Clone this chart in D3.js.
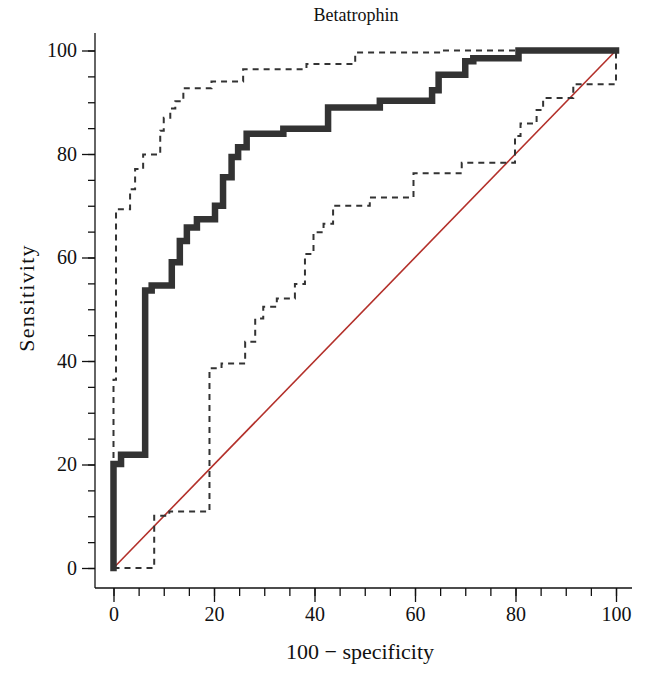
<!DOCTYPE html>
<html>
<head>
<meta charset="utf-8">
<script src="https://cdn.jsdelivr.net/npm/d3@7/dist/d3.min.js"></script>
<style>
  html, body { margin: 0; padding: 0; background: #fff; }
  svg { display: block; }
  text { font-family: "Liberation Serif", "Times New Roman", serif; fill: #111; }
</style>
</head>
<body>
<svg id="chart" width="646" height="679"></svg>
<script>
// ---- Data ----
const chartTitle = "Betatrophin";
const xLabel = "100 \u2212 specificity";
const yLabel = "Sensitivity";

const majorTicks = [0, 20, 40, 60, 80, 100];
const minorTicks = [0,5,10,15,20,25,30,35,40,45,50,55,60,65,70,75,80,85,90,95,100];

// ROC curve corners (100-specificity, sensitivity)
const rocX = [0, 0, 1.5, 1.5, 6.3, 6.3, 7.6, 7.6, 11.6, 11.6, 13.2, 13.2, 14.6, 14.6, 16.6, 16.6, 20.2, 20.2, 21.8, 21.8, 23.5, 23.5, 24.8, 24.8, 26.5, 26.5, 33.8, 33.8, 42.7, 42.7, 53.0, 53.0, 63.4, 63.4, 64.7, 64.7, 70.0, 70.0, 71.6, 71.6, 80.6, 80.6, 100];
const rocY = [0, 20.1, 20.1, 21.9, 21.9, 53.6, 53.6, 54.6, 54.6, 59.1, 59.1, 63.2, 63.2, 65.8, 65.8, 67.4, 67.4, 70.0, 70.0, 75.5, 75.5, 79.4, 79.4, 81.3, 81.3, 83.9, 83.9, 84.9, 84.9, 89.0, 89.0, 90.3, 90.3, 92.3, 92.3, 95.3, 95.3, 97.9, 97.9, 98.5, 98.5, 100, 100];

// Upper 95% confidence bound
const upperX = [0, 0, 0.5, 0.5, 3.3, 3.3, 4.3, 4.3, 5.9, 5.9, 9.3, 9.3, 10.0, 10.0, 11.3, 11.3, 12.3, 12.3, 13.9, 13.9, 19.5, 19.5, 25.8, 25.8, 38.4, 38.4, 48.1, 48.1, 65.0, 65.0, 100];
const upperY = [0, 36.4, 36.4, 69.3, 69.3, 73.2, 73.2, 77.1, 77.1, 79.9, 79.9, 84.5, 84.5, 87.0, 87.0, 88.8, 88.8, 90.2, 90.2, 92.7, 92.7, 94.0, 94.0, 96.4, 96.4, 97.4, 97.4, 99.6, 99.6, 100, 100];

// Lower 95% confidence bound
const lowerX = [0, 8.1, 8.1, 11.1, 11.1, 19.1, 19.1, 21.5, 21.5, 26.2, 26.2, 28.2, 28.2, 29.8, 29.8, 32.5, 32.5, 36.1, 36.1, 38.1, 38.1, 39.8, 39.8, 41.8, 41.8, 43.7, 43.7, 51.0, 51.0, 59.7, 59.7, 69.3, 69.3, 79.9, 79.9, 81.0, 81.0, 84.2, 84.2, 85.5, 85.5, 91.5, 91.5, 100, 100];
const lowerY = [0, 0, 10.1, 10.1, 10.9, 10.9, 38.6, 38.6, 39.5, 39.5, 43.7, 43.7, 48.2, 48.2, 50.5, 50.5, 52.1, 52.1, 54.9, 54.9, 60.7, 60.7, 64.9, 64.9, 66.5, 66.5, 70.0, 70.0, 71.6, 71.6, 76.3, 76.3, 78.3, 78.3, 83.5, 83.5, 85.9, 85.9, 88.5, 88.5, 90.8, 90.8, 93.5, 93.5, 100];

// Reference (chance) diagonal
const diagX = [0, 100];
const diagY = [0, 100];

// ---- Layout ----
const svg = d3.select("#chart");
const x = d3.scaleLinear().domain([0, 100]).range([113.5, 616]);
const y = d3.scaleLinear().domain([0, 100]).range([568, 50.5]);
const axisX0 = 95;   // y axis position
const axisY0 = 588;  // x axis position

// Axis frame lines
svg.append("line").attr("x1", axisX0).attr("x2", axisX0).attr("y1", 33).attr("y2", axisY0)
  .attr("stroke", "#111").attr("stroke-width", 1.3);
svg.append("line").attr("x1", axisX0).attr("x2", 632).attr("y1", axisY0).attr("y2", axisY0)
  .attr("stroke", "#111").attr("stroke-width", 1.3);

// Y axis ticks
const yMinor = svg.append("g").attr("transform", `translate(${axisX0},0)`)
  .call(d3.axisLeft(y).tickValues(minorTicks).tickSize(7).tickFormat(""));
const yMajor = svg.append("g").attr("transform", `translate(${axisX0},0)`)
  .call(d3.axisLeft(y).tickValues(majorTicks).tickSize(13).tickPadding(5).tickFormat(d3.format("d")));
// X axis ticks
const xMinor = svg.append("g").attr("transform", `translate(0,${axisY0})`)
  .call(d3.axisBottom(x).tickValues(minorTicks).tickSize(8).tickFormat(""));
const xMajor = svg.append("g").attr("transform", `translate(0,${axisY0})`)
  .call(d3.axisBottom(x).tickValues(majorTicks).tickSize(14).tickPadding(5).tickFormat(d3.format("d")));

[yMinor, yMajor, xMinor, xMajor].forEach(g => {
  g.select(".domain").remove();
  g.selectAll(".tick line").attr("stroke", "#111").attr("stroke-width", 1.3);
  g.selectAll(".tick text").attr("font-family", "Liberation Serif, serif")
    .attr("font-size", 20).attr("fill", "#111");
});

// Lines
const line = d3.line().x(d => x(d[0])).y(d => y(d[1]));
const zip = (a, b) => a.map((v, i) => [v, b[i]]);

// Chance diagonal
svg.append("path").datum(zip(diagX, diagY)).attr("d", line)
  .attr("fill", "none").attr("stroke", "#b3302a").attr("stroke-width", 1.6);

// Confidence bounds (dashed)
[[upperX, upperY], [lowerX, lowerY]].forEach(([xs, ys]) => {
  svg.append("path").datum(zip(xs, ys)).attr("d", line)
    .attr("fill", "none").attr("stroke", "#333").attr("stroke-width", 2)
    .attr("stroke-dasharray", "6,5");
});

// ROC curve: blue line with thick dark markers
svg.append("path").datum(zip(rocX, rocY)).attr("d", line)
  .attr("fill", "none").attr("stroke", "#2b2e9c").attr("stroke-width", 2.5);
svg.append("path").datum(zip(rocX, rocY)).attr("d", line)
  .attr("fill", "none").attr("stroke", "#333").attr("stroke-width", 6.5)
  .attr("stroke-linejoin", "miter").attr("stroke-linecap", "square");

// Titles
svg.append("text").attr("x", 356).attr("y", 21).attr("text-anchor", "middle")
  .attr("font-size", 18).text(chartTitle);
svg.append("text").attr("x", 360).attr("y", 659).attr("text-anchor", "middle")
  .attr("font-size", 22).text(xLabel);
svg.append("text").attr("transform", "translate(34,298) rotate(-90)")
  .attr("text-anchor", "middle").attr("font-size", 22).attr("letter-spacing", 1.2).text(yLabel);
</script>
</body>
</html>
